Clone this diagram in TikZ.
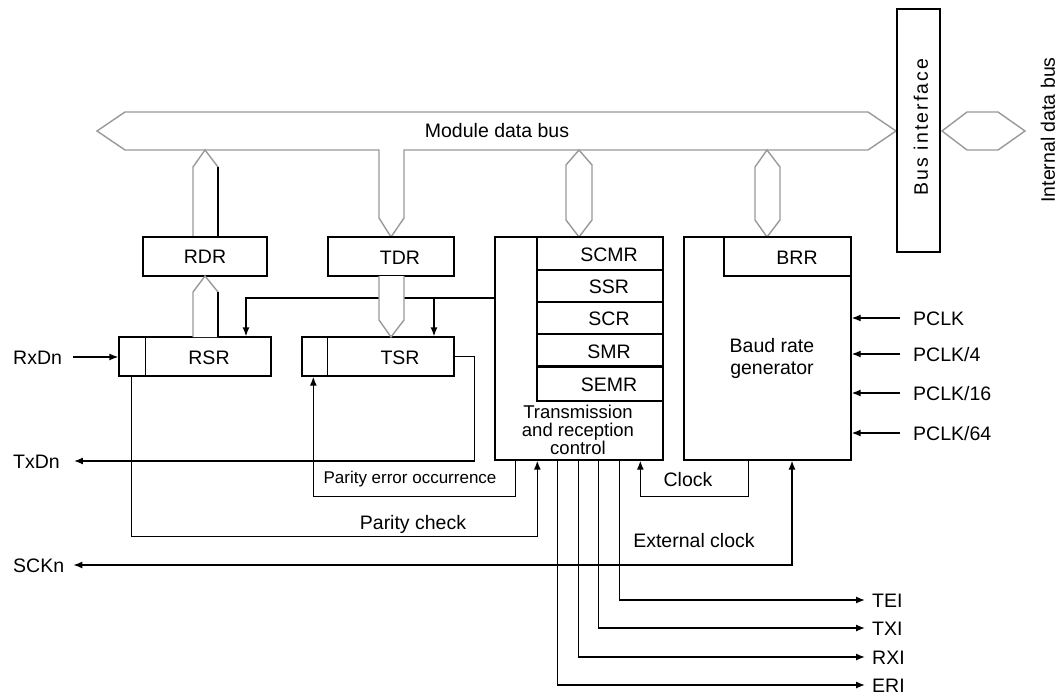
\documentclass[tikz,border=0pt]{standalone}
\usepackage{fontspec}
\setmainfont{Liberation Sans}
\newfontfamily\spacedfont[LetterSpace=11]{Liberation Sans}
\usetikzlibrary{arrows.meta,calc}
\begin{document}
\begin{tikzpicture}[x=1pt,y=-1pt,
  font=\fontsize{19.5}{22}\selectfont,
  lw/.style={line width=1.35pt},
  box/.style={draw,lw,inner sep=0pt,fill=white},
  arr/.style={lw,-{Latex[length=9pt,width=7pt]}},
  arrb/.style={lw,{Latex[length=9pt,width=7pt]}-{Latex[length=9pt,width=7pt]}},
  bus/.style={draw=black!40,line width=1.4pt,fill=white,line join=miter},
  lbl/.style={inner sep=0pt,text height=14pt,text depth=0pt},
  ctl/.style={inner sep=0pt,font=\fontsize{18.5}{20}\selectfont,text height=13pt,text depth=0pt},
  small/.style={inner sep=0pt,font=\fontsize{17}{19}\selectfont,text height=12pt,text depth=0pt}]
\useasboundingbox (0,0) rectangle (1060,695);

% ---- buses (drawn first) ----
\draw[bus] (97,131) -- (125,112) -- (868,112) -- (896,131) -- (868,150) -- (404,150) -- (404,218)
  -- (391,237) -- (379,218) -- (379,150) -- (125,150) -- cycle;
\draw[bus] (193,237) -- (193,167) -- (205,150) -- (218,167) -- (218,237);
\draw[lw] (218,167) -- (218,237);
\draw[bus] (566,165) -- (579,150) -- (592,165) -- (592,220) -- (579,237) -- (566,220) -- cycle;
\draw[bus] (755,167) -- (767,150) -- (780,167) -- (780,220) -- (767,237) -- (755,220) -- cycle;
\draw[bus] (942,131) -- (967,112) -- (998,112) -- (1025,131) -- (998,150) -- (967,150) -- cycle;

% ---- boxes ----
\node[box,minimum width=124pt,minimum height=39pt] (RDR) at (205,256.5) {RDR};
\node[box,minimum width=126pt,minimum height=39pt] (TDR) at (391,256.5) {};
\node[lbl] (TDRt) at (400,257) {TDR};
\node[box,minimum width=152pt,minimum height=39pt] (RSR) at (195,356.5) {};
\draw[lw] ([xshift=27pt]RSR.north west) -- ([xshift=27pt]RSR.south west);
\node[lbl] (RSRt) at (209,357) {RSR};
\node[box,minimum width=152pt,minimum height=39pt] (TSR) at (378,356.5) {};
\draw[lw] ([xshift=26pt]TSR.north west) -- ([xshift=26pt]TSR.south west);
\node[lbl] (TSRt) at (400,357) {TSR};

\node[box,minimum width=168pt,minimum height=223pt] (ctrl) at (579,348.5) {};
\node[box,minimum width=126pt,minimum height=33pt] (SCMR) at (600,253.5) {};
\node[box,minimum width=126pt,minimum height=32pt] (SSR) at (600,286) {};
\node[box,minimum width=126pt,minimum height=32pt] (SCR) at (600,318) {};
\node[box,minimum width=126pt,minimum height=33pt] (SMR) at (600,350.5) {};
\node[box,minimum width=126pt,minimum height=34pt] (SEMR) at (600,384) {};
\draw[line width=2.6pt] (SEMR.north west) -- (SEMR.north east);
\node[lbl] (SCMRt) at (609,254) {SCMR};
\node[lbl] (SSRt) at (609,286.5) {SSR};
\node[lbl] (SCRt) at (609,318.5) {SCR};
\node[lbl] (SMRt) at (609,351) {SMR};
\node[lbl] (SEMRt) at (609,384.5) {SEMR};
\node[ctl] (ctrl1) at (578,412) {Transmission};
\node[ctl] (ctrl2) at (578,430) {and reception};
\node[ctl] (ctrl3) at (578,448) {control};

\node[box,minimum width=167pt,minimum height=223pt] (baud) at (767.5,348.5) {};
\node[box,minimum width=127pt,minimum height=39pt] (BRR) at (787.5,256.5) {};
\node[lbl] (BRRt) at (797,257) {BRR};
\node[lbl] (baud1) at (772,345) {Baud rate};
\node[lbl] (baud2) at (772,367) {generator};

\node[box,minimum width=43pt,minimum height=243pt] (busif) at (918.5,130.5) {};
\node[inner sep=0pt,rotate=90,font=\spacedfont\fontsize{19.5}{22}\selectfont] (busift) at (921,127) {Bus interface};
\node[inner sep=0pt,rotate=90] (idb) at (1048,130) {Internal data bus};
\node[lbl] (mdb) at (497,131) {Module data bus};

% ---- external labels ----
\node[lbl,anchor=west] (RxDn) at (13,357) {RxDn};
\node[lbl,anchor=west] (TxDn) at (13,461) {TxDn};
\node[lbl,anchor=west] (SCKn) at (13,565) {SCKn};
\node[lbl,anchor=west] (P1) at (913,318) {PCLK};
\node[lbl,anchor=west] (P4) at (913,354) {PCLK/4};
\node[lbl,anchor=west] (P16) at (913,393) {PCLK/16};
\node[lbl,anchor=west] (P64) at (913,433) {PCLK/64};
\node[lbl,anchor=west] (TEI) at (872,600) {TEI};
\node[lbl,anchor=west] (TXI) at (872,628) {TXI};
\node[lbl,anchor=west] (RXI) at (872,657) {RXI};
\node[lbl,anchor=west] (ERI) at (872,685) {ERI};
\node[small] (pe) at (410,477) {Parity error occurrence};
\node[lbl] (pc) at (413,522) {Parity check};
\node[lbl] (clk) at (688,479) {Clock};
\node[lbl] (ext) at (694,540) {External clock};

% ---- connectors ----
\draw[arr] ([xshift=11pt]RxDn.east) -- (RxDn.east -| RSR.west);
\draw[arr] (TSR.east) -- ++(20,0) |- ([xshift=14pt]TxDn.east);
\draw[arrb] ([xshift=9pt]SCKn.east) -| ([xshift=24.5pt]baud.south);
\coordinate (cl) at ([yshift=50.5pt]ctrl.west);
\draw[arr] (cl) -| ([xshift=51pt]RSR.north);
\coordinate (tsrin) at ([xshift=56pt]TSR.north);
\draw[arr] (tsrin |- cl) -- (tsrin);
\draw[arr] ([xshift=21pt]ctrl.south west) -- ++(0,36) -| ([xshift=12pt]TSR.south west);
\draw[arr] ([xshift=13pt]RSR.south west) -- ++(0,160) -| ([xshift=43pt]ctrl.south west);
\draw[arr] ([xshift=65pt]baud.south west) -- ++(0,36) -| ([xshift=146pt]ctrl.south west);
\draw[arr] ([xshift=125pt]ctrl.south west) |- ([xshift=-7pt]TEI.west);
\draw[arr] ([xshift=104pt]ctrl.south west) |- ([xshift=-7pt]TXI.west);
\draw[arr] ([xshift=84pt]ctrl.south west) |- ([xshift=-7pt]RXI.west);
\draw[arr] ([xshift=63pt]ctrl.south west) |- ([xshift=-7pt]ERI.west);
\draw[arr] ([xshift=-13pt]P1.west) -- (P1.west -| baud.east);
\draw[arr] ([xshift=-13pt]P4.west) -- (P4.west -| baud.east);
\draw[arr] ([xshift=-13pt]P16.west) -- (P16.west -| baud.east);
\draw[arr] ([xshift=-13pt]P64.west) -- (P64.west -| baud.east);

% ---- stems over lines ----
\draw[bus] (193,337) -- (193,292) -- (205,276) -- (218,292) -- (218,337);
\draw[lw] (218,292) -- (218,337);
\draw[bus] (379,276) -- (379,320) -- (391,337) -- (404,320) -- (404,276);
\end{tikzpicture}
\end{document}
